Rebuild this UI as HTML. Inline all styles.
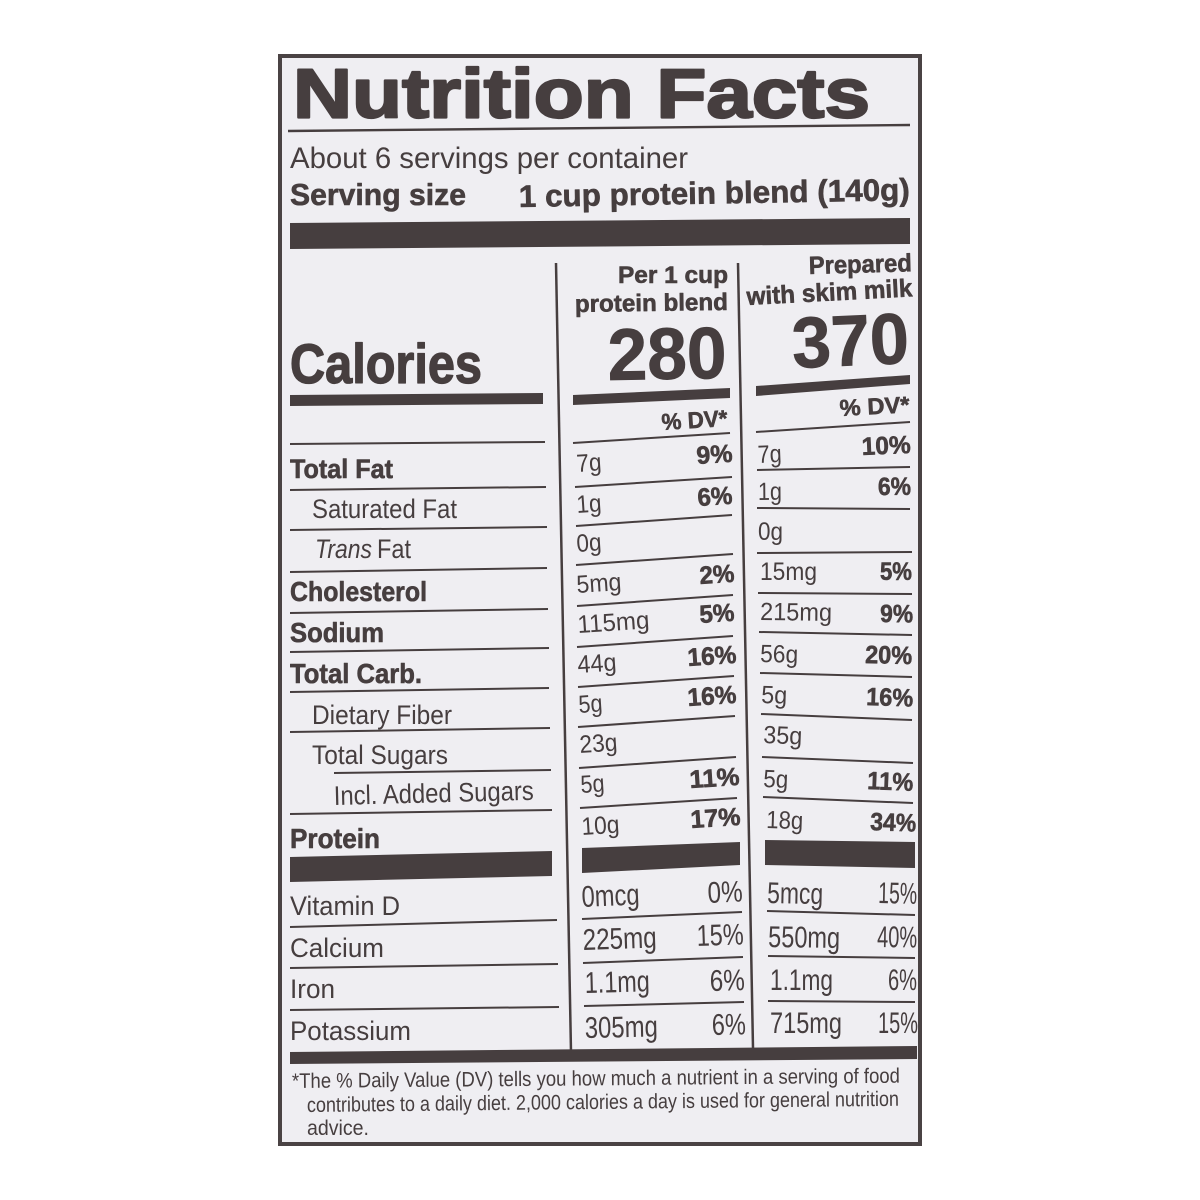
<!DOCTYPE html>
<html><head><meta charset="utf-8"><style>
html,body{margin:0;padding:0;background:#fff;width:1200px;height:1200px;overflow:hidden}
svg{display:block}
text{font-family:"Liberation Sans",Arial,sans-serif;fill:#463e3f}
.b{font-weight:700}
.bs{font-weight:700;stroke:#463e3f;stroke-width:0.6;stroke-linejoin:round}
</style></head><body>
<svg width="1200" height="1200" viewBox="0 0 1200 1200" xmlns="http://www.w3.org/2000/svg">
<rect x="0" y="0" width="1200" height="1200" fill="#ffffff"/>
<rect x="280" y="56" width="640" height="1088" fill="#efeef2" stroke="#4a4344" stroke-width="4"/>

<!-- Title -->
<text x="293" y="117.5" font-size="70" class="b" textLength="577" lengthAdjust="spacingAndGlyphs" stroke="#463e3f" stroke-width="2.2" stroke-linejoin="round">Nutrition Facts</text>
<polygon points="288,129.8 910,123.8 910,126.2 288,132.2" fill="#463e3f"/>

<text x="290" y="168" font-size="30" textLength="398" lengthAdjust="spacingAndGlyphs">About 6 servings per container</text>
<text x="290" y="205" font-size="31" class="bs" textLength="176" lengthAdjust="spacingAndGlyphs">Serving size</text>
<text x="519" y="207" font-size="31" class="bs" textLength="391" lengthAdjust="spacingAndGlyphs" transform="rotate(-1 519 207)">1 cup protein blend (140g)</text>

<polygon points="290,223 910,218 910,244 290,249" fill="#463e3f"/>

<!-- dividers -->
<line x1="556" y1="263" x2="571" y2="1052" stroke="#463e3f" stroke-width="2.5"/>
<line x1="738" y1="263" x2="753" y2="1048" stroke="#463e3f" stroke-width="2.5"/>

<!-- header -->
<text x="618" y="283" font-size="24" class="bs" textLength="110" lengthAdjust="spacingAndGlyphs">Per 1 cup</text>
<text x="575" y="312" font-size="24" class="bs" textLength="153" lengthAdjust="spacingAndGlyphs" transform="rotate(-0.8 575 312)">protein blend</text>
<text x="809" y="274" font-size="25" class="bs" textLength="103" lengthAdjust="spacingAndGlyphs" transform="rotate(-1.5 809 274)">Prepared</text>
<text x="747" y="305" font-size="25" class="bs" textLength="166" lengthAdjust="spacingAndGlyphs" transform="rotate(-3 747 305)">with skim milk</text>

<text x="290" y="383" font-size="56" class="b" textLength="192" lengthAdjust="spacingAndGlyphs" stroke="#463e3f" stroke-width="1.3" stroke-linejoin="round">Calories</text>
<text x="608" y="380" font-size="73" class="b" textLength="119" lengthAdjust="spacingAndGlyphs" stroke="#463e3f" stroke-width="0.8" transform="rotate(-1 608 380)">280</text>
<text x="793" y="368" font-size="72" class="b" textLength="117" lengthAdjust="spacingAndGlyphs" stroke="#463e3f" stroke-width="0.8" transform="rotate(-2.5 793 368)">370</text>

<polygon points="290,395 543,393 543,404 290,406" fill="#463e3f"/>
<polygon points="573,395 730,388 730,398 573,405" fill="#463e3f"/>
<polygon points="756,386 910,375 910,384 756,396" fill="#463e3f"/>

<text x="662" y="430" font-size="23" class="bs" textLength="66" lengthAdjust="spacingAndGlyphs" transform="rotate(-3.5 662 430)">% DV*</text>
<text x="840" y="416" font-size="23" class="bs" textLength="70" lengthAdjust="spacingAndGlyphs" transform="rotate(-3 840 416)">% DV*</text>

<!-- left col lines -->
<g stroke="#463e3f" stroke-width="2">
<line x1="290" y1="444" x2="545" y2="442"/>
<line x1="290" y1="490" x2="546" y2="487"/>
<line x1="290" y1="530" x2="547" y2="527"/>
<line x1="290" y1="572" x2="547" y2="568"/>
<line x1="290" y1="613" x2="548" y2="609"/>
<line x1="290" y1="652" x2="549" y2="648"/>
<line x1="290" y1="692" x2="549" y2="688"/>
<line x1="290" y1="732" x2="550" y2="728"/>
<line x1="334" y1="773" x2="551" y2="770"/>
<line x1="290" y1="814" x2="552" y2="810"/>
<line x1="290" y1="927" x2="557" y2="920"/>
<line x1="290" y1="968" x2="558" y2="964"/>
<line x1="290" y1="1010" x2="559" y2="1007"/>
<!-- mid col lines -->
<line x1="573" y1="443" x2="730" y2="433"/>
<line x1="575" y1="487" x2="732" y2="477"/>
<line x1="576" y1="526" x2="732" y2="515"/>
<line x1="576" y1="565" x2="733" y2="554"/>
<line x1="577" y1="606" x2="733" y2="595"/>
<line x1="577" y1="647" x2="733" y2="636"/>
<line x1="578" y1="687" x2="734" y2="676"/>
<line x1="578" y1="727" x2="735" y2="716"/>
<line x1="579" y1="768" x2="736" y2="757"/>
<line x1="580" y1="808" x2="737" y2="798"/>
<line x1="582" y1="919" x2="742" y2="912"/>
<line x1="583" y1="963" x2="743" y2="957"/>
<line x1="584" y1="1006" x2="744" y2="1002"/>
<!-- right col lines -->
<line x1="756" y1="432" x2="910" y2="422"/>
<line x1="757" y1="470" x2="910" y2="467"/>
<line x1="757" y1="508" x2="910" y2="509"/>
<line x1="757" y1="553" x2="912" y2="552"/>
<line x1="758" y1="593" x2="912" y2="594"/>
<line x1="759" y1="632" x2="912" y2="635"/>
<line x1="760" y1="673" x2="912" y2="677"/>
<line x1="761" y1="714" x2="912" y2="720"/>
<line x1="762" y1="757" x2="913" y2="763"/>
<line x1="763" y1="797" x2="913" y2="803"/>
<line x1="767" y1="911" x2="915" y2="915"/>
<line x1="768" y1="956" x2="915" y2="958"/>
<line x1="768" y1="1001" x2="915" y2="1002"/>
</g>

<!-- thick bars -->
<polygon points="290,857 552,851 552,876 290,882" fill="#463e3f"/>
<polygon points="582,848 740,842 740,865 582,873" fill="#463e3f"/>
<polygon points="765,840 915,842 915,868 765,865" fill="#463e3f"/>
<polygon points="290,1052 917,1046 917,1059 290,1064" fill="#463e3f"/>

<!-- left labels -->
<text x="290" y="478" font-size="27" class="bs" textLength="103" lengthAdjust="spacingAndGlyphs">Total Fat</text>
<text x="312" y="518" font-size="27" textLength="145" lengthAdjust="spacingAndGlyphs">Saturated Fat</text>
<text x="315" y="558" font-size="27" font-style="italic" textLength="57" lengthAdjust="spacingAndGlyphs">Trans</text>
<text x="377" y="558" font-size="27" textLength="34" lengthAdjust="spacingAndGlyphs">Fat</text>
<text x="290" y="601" font-size="28" class="bs" textLength="137" lengthAdjust="spacingAndGlyphs">Cholesterol</text>
<text x="290" y="642" font-size="28" class="bs" textLength="94" lengthAdjust="spacingAndGlyphs">Sodium</text>
<text x="290" y="683" font-size="28" class="bs" textLength="132" lengthAdjust="spacingAndGlyphs">Total Carb.</text>
<text x="312" y="724" font-size="27" textLength="140" lengthAdjust="spacingAndGlyphs">Dietary Fiber</text>
<text x="312" y="764" font-size="27" textLength="136" lengthAdjust="spacingAndGlyphs">Total Sugars</text>
<text x="334" y="805" font-size="27" textLength="200" lengthAdjust="spacingAndGlyphs" transform="rotate(-1.5 334 805)">Incl. Added Sugars</text>
<text x="290" y="848" font-size="28" class="bs" textLength="90" lengthAdjust="spacingAndGlyphs">Protein</text>
<text x="290" y="915" font-size="27" textLength="110" lengthAdjust="spacingAndGlyphs">Vitamin D</text>
<text x="290" y="957" font-size="27" textLength="94" lengthAdjust="spacingAndGlyphs">Calcium</text>
<text x="290" y="998" font-size="27" textLength="45" lengthAdjust="spacingAndGlyphs">Iron</text>
<text x="290" y="1040" font-size="27" textLength="121" lengthAdjust="spacingAndGlyphs">Potassium</text>

<!-- mid column values -->
<g font-size="25">
<text x="577" y="472" textLength="25" lengthAdjust="spacingAndGlyphs" transform="rotate(-3.8 577 472)">7g</text>
<text x="697" y="464" class="bs" textLength="36" lengthAdjust="spacingAndGlyphs" transform="rotate(-3.8 697 464)">9%</text>
<text x="577" y="513" textLength="25" lengthAdjust="spacingAndGlyphs" transform="rotate(-3.8 577 513)">1g</text>
<text x="698" y="506" class="bs" textLength="35" lengthAdjust="spacingAndGlyphs" transform="rotate(-3.8 698 506)">6%</text>
<text x="577" y="552" textLength="25" lengthAdjust="spacingAndGlyphs" transform="rotate(-3.8 577 552)">0g</text>
<text x="577" y="593" textLength="45" lengthAdjust="spacingAndGlyphs" transform="rotate(-3.8 577 593)">5mg</text>
<text x="700" y="584" class="bs" textLength="35" lengthAdjust="spacingAndGlyphs" transform="rotate(-3.8 700 584)">2%</text>
<text x="578" y="633" textLength="72" lengthAdjust="spacingAndGlyphs" transform="rotate(-3.8 578 633)">115mg</text>
<text x="700" y="623" class="bs" textLength="35" lengthAdjust="spacingAndGlyphs" transform="rotate(-3.8 700 623)">5%</text>
<text x="578" y="673" textLength="39" lengthAdjust="spacingAndGlyphs" transform="rotate(-3.8 578 673)">44g</text>
<text x="688" y="666" class="bs" textLength="49" lengthAdjust="spacingAndGlyphs" transform="rotate(-3.8 688 666)">16%</text>
<text x="579" y="713" textLength="24" lengthAdjust="spacingAndGlyphs" transform="rotate(-3.8 579 713)">5g</text>
<text x="688" y="706" class="bs" textLength="49" lengthAdjust="spacingAndGlyphs" transform="rotate(-3.8 688 706)">16%</text>
<text x="580" y="753" textLength="38" lengthAdjust="spacingAndGlyphs" transform="rotate(-3.8 580 753)">23g</text>
<text x="581" y="793" textLength="24" lengthAdjust="spacingAndGlyphs" transform="rotate(-3.6 581 793)">5g</text>
<text x="690" y="788" class="bs" textLength="50" lengthAdjust="spacingAndGlyphs" transform="rotate(-3.6 690 788)">11%</text>
<text x="582" y="835" textLength="38" lengthAdjust="spacingAndGlyphs" transform="rotate(-3.6 582 835)">10g</text>
<text x="691" y="828" class="bs" textLength="50" lengthAdjust="spacingAndGlyphs" transform="rotate(-3.6 691 828)">17%</text>
</g>
<g font-size="30">
<text x="582" y="907" textLength="58" lengthAdjust="spacingAndGlyphs" transform="rotate(-2.5 582 907)">0mcg</text>
<text x="708" y="903" textLength="35" lengthAdjust="spacingAndGlyphs" transform="rotate(-2.5 708 903)">0%</text>
<text x="583" y="950" textLength="74" lengthAdjust="spacingAndGlyphs" transform="rotate(-2 583 950)">225mg</text>
<text x="697" y="946" textLength="47" lengthAdjust="spacingAndGlyphs" transform="rotate(-2 697 946)">15%</text>
<text x="585" y="993" textLength="65" lengthAdjust="spacingAndGlyphs" transform="rotate(-1.5 585 993)">1.1mg</text>
<text x="710" y="991" textLength="35" lengthAdjust="spacingAndGlyphs" transform="rotate(-1.5 710 991)">6%</text>
<text x="585" y="1038" textLength="73" lengthAdjust="spacingAndGlyphs" transform="rotate(-1.2 585 1038)">305mg</text>
<text x="712" y="1035" textLength="34" lengthAdjust="spacingAndGlyphs" transform="rotate(-1.2 712 1035)">6%</text>
</g>

<!-- right column values -->
<g font-size="25">
<text x="758" y="463" textLength="24" lengthAdjust="spacingAndGlyphs" transform="rotate(-2.4 758 463)">7g</text>
<text x="862" y="455" class="bs" textLength="49" lengthAdjust="spacingAndGlyphs" transform="rotate(-2.4 862 455)">10%</text>
<text x="758" y="500" textLength="24" lengthAdjust="spacingAndGlyphs" transform="rotate(-0.5 758 500)">1g</text>
<text x="878" y="495" class="bs" textLength="33" lengthAdjust="spacingAndGlyphs" transform="rotate(-0.5 878 495)">6%</text>
<text x="758" y="540" textLength="25" lengthAdjust="spacingAndGlyphs">0g</text>
<text x="760" y="580" textLength="57" lengthAdjust="spacingAndGlyphs">15mg</text>
<text x="880" y="580" class="bs" textLength="32" lengthAdjust="spacingAndGlyphs">5%</text>
<text x="760" y="620" textLength="72" lengthAdjust="spacingAndGlyphs" transform="rotate(0.7 760 620)">215mg</text>
<text x="880" y="622" class="bs" textLength="33" lengthAdjust="spacingAndGlyphs" transform="rotate(0.7 880 622)">9%</text>
<text x="760" y="662" textLength="38" lengthAdjust="spacingAndGlyphs" transform="rotate(1.3 760 662)">56g</text>
<text x="865" y="663" class="bs" textLength="47" lengthAdjust="spacingAndGlyphs" transform="rotate(1.3 865 663)">20%</text>
<text x="761" y="703" textLength="26" lengthAdjust="spacingAndGlyphs" transform="rotate(1.9 761 703)">5g</text>
<text x="866" y="705" class="bs" textLength="47" lengthAdjust="spacingAndGlyphs" transform="rotate(1.9 866 705)">16%</text>
<text x="763" y="743" textLength="39" lengthAdjust="spacingAndGlyphs" transform="rotate(2.3 763 743)">35g</text>
<text x="763" y="787" textLength="25" lengthAdjust="spacingAndGlyphs" transform="rotate(2.3 763 787)">5g</text>
<text x="867" y="789" class="bs" textLength="46" lengthAdjust="spacingAndGlyphs" transform="rotate(2.3 867 789)">11%</text>
<text x="766" y="828" textLength="37" lengthAdjust="spacingAndGlyphs" transform="rotate(2 766 828)">18g</text>
<text x="870" y="830" class="bs" textLength="46" lengthAdjust="spacingAndGlyphs" transform="rotate(2 870 830)">34%</text>
</g>
<g font-size="30">
<text x="767" y="903" textLength="56" lengthAdjust="spacingAndGlyphs" transform="rotate(1.2 767 903)">5mcg</text>
<text x="878" y="903" textLength="39" lengthAdjust="spacingAndGlyphs" transform="rotate(1.2 878 903)">15%</text>
<text x="768" y="947" textLength="72" lengthAdjust="spacingAndGlyphs" transform="rotate(0.8 768 947)">550mg</text>
<text x="877" y="947" textLength="40" lengthAdjust="spacingAndGlyphs" transform="rotate(0.8 877 947)">40%</text>
<text x="770" y="990" textLength="63" lengthAdjust="spacingAndGlyphs">1.1mg</text>
<text x="888" y="990" textLength="29" lengthAdjust="spacingAndGlyphs">6%</text>
<text x="770" y="1033" textLength="72" lengthAdjust="spacingAndGlyphs">715mg</text>
<text x="878" y="1033" textLength="40" lengthAdjust="spacingAndGlyphs">15%</text>
</g>

<!-- footnote -->
<g font-size="21">
<text x="292" y="1088" textLength="608" lengthAdjust="spacingAndGlyphs" transform="rotate(-0.5 292 1088)">*The % Daily Value (DV) tells you how much a nutrient in a serving of food</text>
<text x="307" y="1112" textLength="592" lengthAdjust="spacingAndGlyphs" transform="rotate(-0.6 307 1112)">contributes to a daily diet. 2,000 calories a day is used for general nutrition</text>
<text x="307" y="1135" textLength="62" lengthAdjust="spacingAndGlyphs">advice.</text>
</g>
</svg>
</body></html>
